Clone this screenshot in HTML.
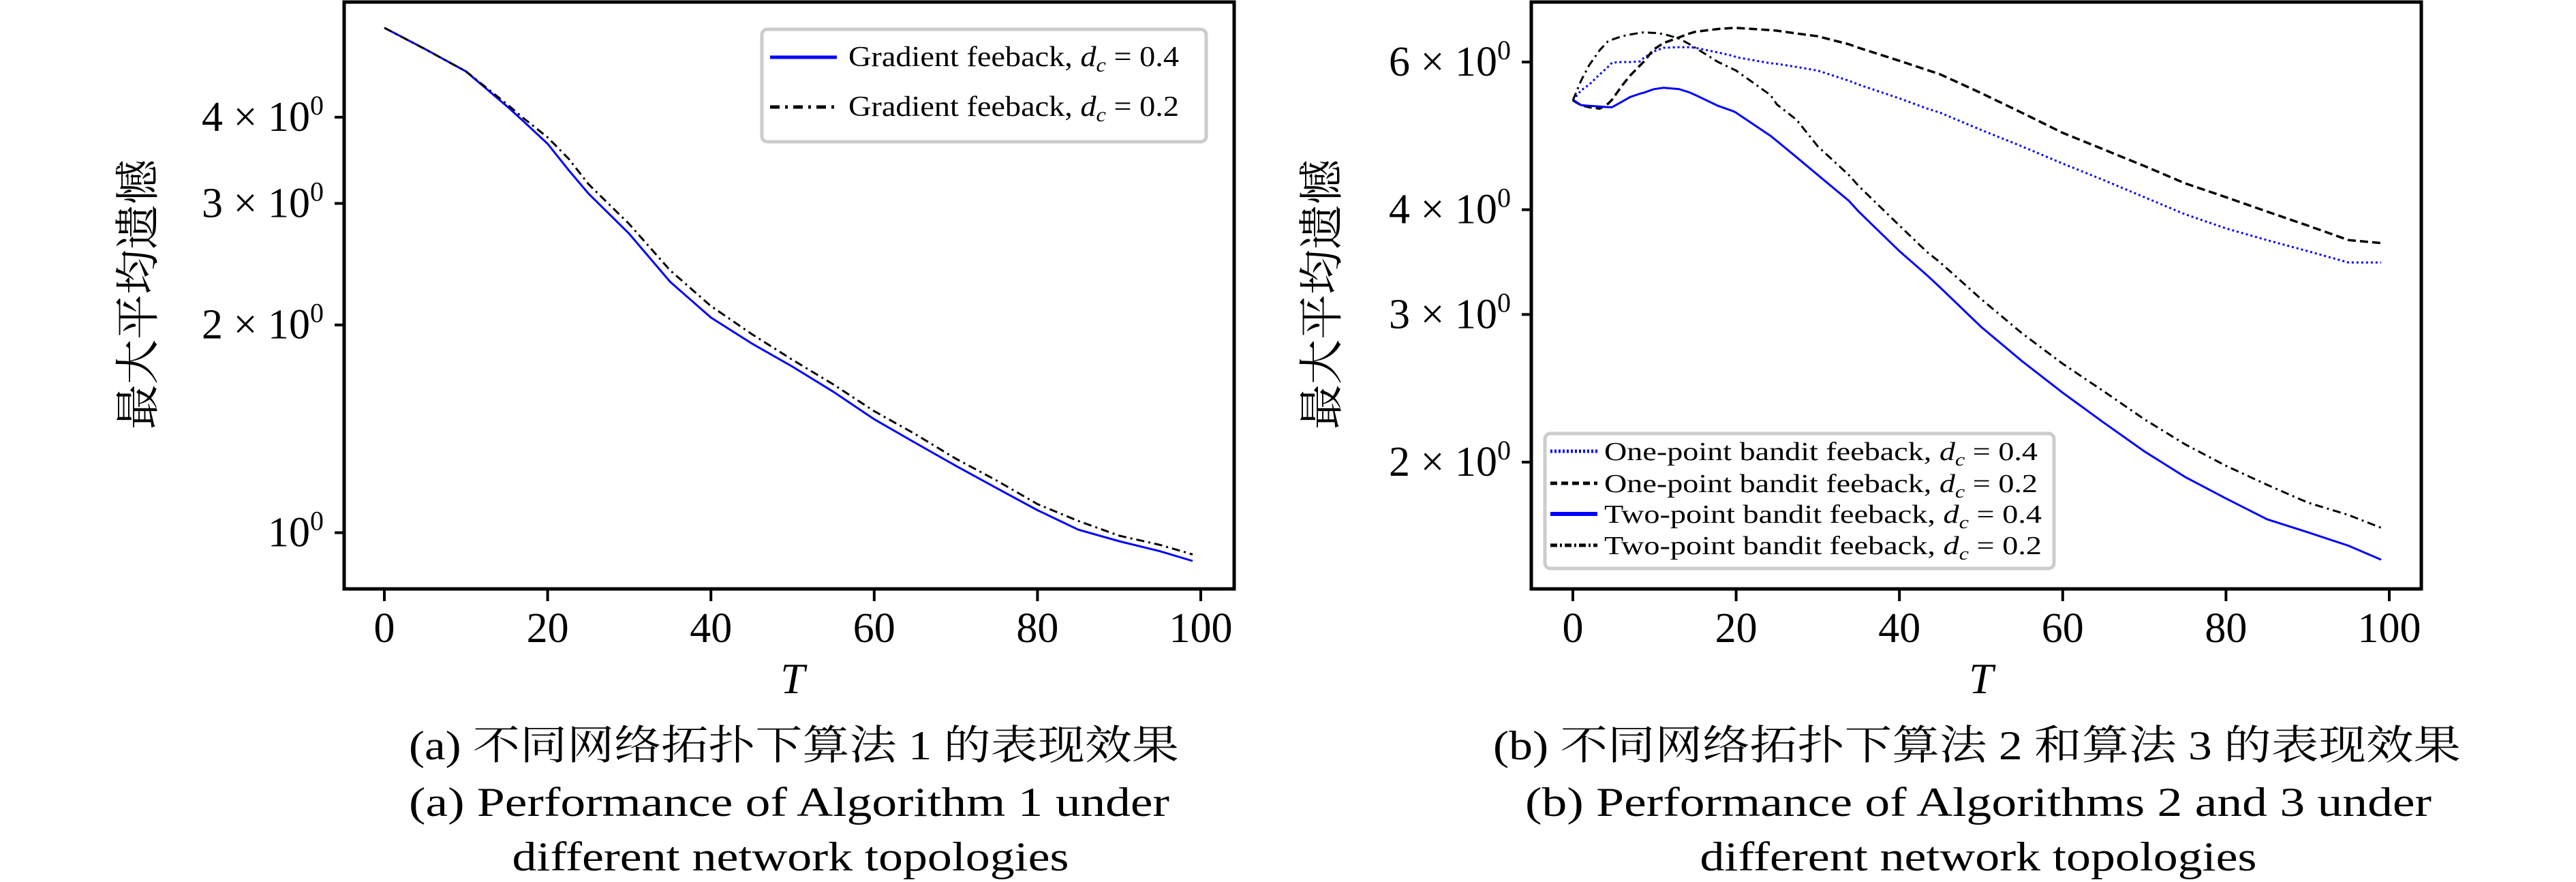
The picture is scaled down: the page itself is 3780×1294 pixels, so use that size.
<!DOCTYPE html>
<html><head><meta charset="utf-8"><style>
html,body{margin:0;padding:0;background:#fff;}
svg{display:block;}
text{font-family:"Liberation Serif","Noto Serif CJK SC",serif;fill:#000;}
</style></head><body>
<svg id="fig" width="3780" height="1294" viewBox="0 0 3780 1294" xmlns="http://www.w3.org/2000/svg">
<g id="left"></g>
<g id="right"></g>
<text x="1165" y="1114" text-anchor="middle" font-size="60" textLength="1130" lengthAdjust="spacingAndGlyphs">(a) 不同网络拓扑下算法 1 的表现效果</text>
<text x="1158" y="1197" text-anchor="middle" font-size="60" textLength="1116" lengthAdjust="spacingAndGlyphs">(a) Performance of Algorithm 1 under</text>
<text x="1160" y="1277" text-anchor="middle" font-size="60" textLength="817" lengthAdjust="spacingAndGlyphs">different network topologies</text>
<text x="2901" y="1114" text-anchor="middle" font-size="60" textLength="1420" lengthAdjust="spacingAndGlyphs">(b) 不同网络拓扑下算法 2 和算法 3 的表现效果</text>
<text x="2903" y="1197" text-anchor="middle" font-size="60" textLength="1330" lengthAdjust="spacingAndGlyphs">(b) Performance of Algorithms 2 and 3 under</text>
<text x="2903" y="1277" text-anchor="middle" font-size="60" textLength="817" lengthAdjust="spacingAndGlyphs">different network topologies</text>
</svg>
<script>
// ---- Left chart data ----
const leftT = [0,5,10,15,17,20,22.6,25,30,35,40,45,50,55,60,65,70,75,80,85,90,95,99];
const leftGrad04 = [5.39,5.02,4.66,4.15,3.95,3.66,3.35,3.10,2.71,2.31,2.05,1.88,1.74,1.60,1.46,1.35,1.25,1.16,1.078,1.01,0.972,0.94,0.91];
const leftGrad02 = [5.39,5.02,4.66,4.18,3.99,3.74,3.48,3.20,2.80,2.40,2.13,1.94,1.78,1.64,1.50,1.39,1.28,1.19,1.10,1.04,0.99,0.96,0.93];
const leftYTicks = [1,2,3,4];
const leftYTickLabels = ["10","2 × 10","3 × 10","4 × 10"];
const xTicks = [0,20,40,60,80,100];
// ---- Right chart data ----
const rightT = [0,1,2,3.3,4.3,4.8,6,7,8.2,8.8,9.7,10,11.1,13,14.3,15,17.8,19.7,20,24.2,25,27.4,30,33.8,35,40,43.4,45,50,55,60,65,70,75,80,85,90,95,99];
const oneP04 = [5.40,5.55,5.64,5.80,5.92,5.99,6.0,6.0,6.01,6.08,6.15,6.18,6.24,6.25,6.25,6.24,6.16,6.10,6.08,5.98,5.97,5.92,5.86,5.70,5.64,5.43,5.28,5.22,4.98,4.76,4.54,4.34,4.14,3.95,3.80,3.68,3.57,3.46,3.46];
const oneP02 = [5.40,5.33,5.30,5.28,5.35,5.41,5.62,5.78,5.94,6.02,6.18,6.22,6.32,6.42,6.49,6.52,6.57,6.59,6.59,6.55,6.54,6.49,6.44,6.30,6.24,6.02,5.87,5.80,5.51,5.22,4.94,4.72,4.51,4.30,4.14,3.98,3.83,3.68,3.65];
const twoP04 = [5.41,5.33,5.32,5.31,5.30,5.30,5.38,5.45,5.50,5.52,5.56,5.57,5.59,5.57,5.52,5.48,5.32,5.24,5.22,4.90,4.83,4.62,4.40,4.10,3.98,3.57,3.34,3.23,2.90,2.64,2.42,2.23,2.06,1.92,1.81,1.71,1.65,1.59,1.53];
const twoP02 = [5.40,5.70,5.95,6.20,6.35,6.38,6.44,6.47,6.50,6.51,6.50,6.50,6.48,6.40,6.30,6.24,6.00,5.88,5.86,5.48,5.34,5.12,4.76,4.40,4.27,3.83,3.56,3.46,3.13,2.85,2.62,2.43,2.25,2.10,1.98,1.88,1.79,1.73,1.67];
const rightYTicks = [2,3,4,6];
const rightYTickLabels = ["2 × 10","3 × 10","4 × 10","6 × 10"];

const NS = "http://www.w3.org/2000/svg";
function mk(parent, tag, attrs){
  const e = document.createElementNS(NS, tag);
  for (const k in attrs) e.setAttribute(k, attrs[k]);
  parent.appendChild(e); return e;
}
function drawChart(g, cfg){
  const sx = t => cfg.x0 + (t/100)*(cfg.x100-cfg.x0);
  const sy = v => cfg.yRef - cfg.k*Math.log(v/cfg.vRef);
  // frame
  const fr = mk(g,'rect',{x:cfg.fl,y:cfg.ft,width:cfg.fr-cfg.fl,height:cfg.fb-cfg.ft,fill:'none',stroke:'#000','stroke-width':5});
  
  
  // x ticks
  xTicks.forEach(t=>{
    const l = mk(g,'line',{x1:sx(t),x2:sx(t),y1:cfg.fb,y2:cfg.fb+18,stroke:'#000','stroke-width':4});
    
    
    const tx = mk(g,'text',{x:sx(t),y:942,'text-anchor':'middle','font-size':62});
    
    
    tx.textContent = String(t);
  });
  // y ticks
  cfg.yticks.forEach((v,i)=>{
    const y = sy(v);
    const l = mk(g,'line',{x1:cfg.fl-14,x2:cfg.fl,y1:y,y2:y,stroke:'#000','stroke-width':4});
    
    
    const tx = mk(g,'text',{x:cfg.fl-30,y:y+20,'text-anchor':'end','font-size':62});
    
    
    tx.textContent = cfg.ylabels[i];
    const sup = mk(tx,'tspan',{dy:-24,'font-size':40});
    sup.textContent = '0';
  });
  // axis labels
  const xl = mk(g,'text',{x:(cfg.x0+cfg.x100)/2,y:1017,'text-anchor':'middle','font-size':64,'font-style':'italic'});
  
  
  xl.textContent = 'T';
  const yl = mk(g,'text',{x:0,y:0,'text-anchor':'middle','font-size':66,transform:`translate(${cfg.ylx},432) rotate(-90)`});
  
  
  yl.textContent = '最大平均遗憾';
  // series
  cfg.series.forEach(s=>{
    const d = s.vals.map((v,i)=>(i?'L':'M')+sx(cfg.T[i]).toFixed(1)+','+sy(v).toFixed(1)).join(' ');
    const p = mk(g,'path',{d:d,fill:'none',stroke:s.color,'stroke-width':s.w,'stroke-dasharray':s.dash||'none'});
    
    
  });
  // legend
  const L = cfg.legend;
  const box = mk(g,'rect',{x:L.x,y:L.y,width:L.w,height:L.h,rx:8,fill:'#fff',stroke:'#ccc','stroke-width':5});
  
  
  cfg.series.forEach((s,i)=>{
    const y = L.rows[i];
    const ln = mk(g,'line',{x1:L.lx1,x2:L.lx2,y1:y,y2:y,stroke:s.color,'stroke-width':s.lw,'stroke-dasharray':s.ldash||'none'});
    
    
    const tx = mk(g,'text',{x:L.tx,y:y+13,'font-size':L.fs,textLength:s.tl,lengthAdjust:'spacingAndGlyphs'});
    
    
    tx.textContent = s.label + ', ';
    const d = mk(tx,'tspan',{'font-style':'italic'}); d.textContent='d';
    const c = mk(tx,'tspan',{'font-style':'italic','font-size':L.fs*0.7,dy:8}); c.textContent='c';
    const r = mk(tx,'tspan',{dy:-8}); r.textContent=' = '+s.dc;
  });
}
drawChart(document.getElementById('left'),{
  fl:505,fr:1811,ft:3,fb:864,x0:564,x100:1762,yRef:781.5,vRef:1,k:439.7,
  yticks:leftYTicks,ylabels:leftYTickLabels,ylx:225,T:leftT,
  series:[
    {name:'line-gradient-dc-0.4',vals:leftGrad04,color:'#0000ff',w:3,lw:5,label:'Gradient feeback',dc:'0.4',tl:485},
    {name:'line-gradient-dc-0.2',vals:leftGrad02,color:'#000',w:3,dash:'12,6,3,6',lw:5,ldash:'14,8,4,8',label:'Gradient feeback',dc:'0.2',tl:485}
  ],
  legend:{x:1118,y:43,w:652,h:165,rows:[84,157],lx1:1130,lx2:1228,tx:1245,fs:42}
});
drawChart(document.getElementById('right'),{
  fl:2247,fr:3553,ft:3,fb:864,x0:2308,x100:3506,yRef:678,vRef:2,k:534.3,
  yticks:rightYTicks,ylabels:rightYTickLabels,ylx:1962,T:rightT,
  series:[
    {name:'line-one-point-dc-0.4',vals:oneP04,color:'#0000ff',w:3,dash:'3,4',lw:5,ldash:'3,3',label:'One-point bandit feeback',dc:'0.4',tl:636},
    {name:'line-one-point-dc-0.2',vals:oneP02,color:'#000',w:3.5,dash:'12,6',lw:5,ldash:'10,6',label:'One-point bandit feeback',dc:'0.2',tl:636},
    {name:'line-two-point-dc-0.4',vals:twoP04,color:'#0000ff',w:3,lw:6,label:'Two-point bandit feeback',dc:'0.4',tl:642},
    {name:'line-two-point-dc-0.2',vals:twoP02,color:'#000',w:3,dash:'12,6,3,6',lw:5,ldash:'10,4,3,4',label:'Two-point bandit feeback',dc:'0.2',tl:642}
  ],
  legend:{x:2267,y:636,w:747,h:198,rows:[662,709,754,800],lx1:2275,lx2:2344,tx:2354,fs:38}
});
</script>
</body></html>
